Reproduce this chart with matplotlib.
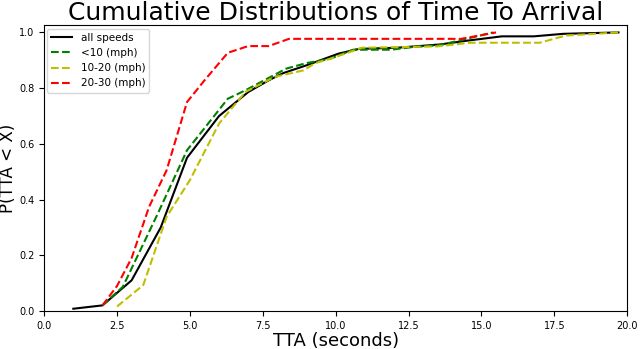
import matplotlib
matplotlib.use('Agg')
import matplotlib.pyplot as plt

# all speeds
all_x = [1.0, 2.0, 3.0, 4.0, 4.9, 6.0, 7.0, 7.7, 8.2, 9.0, 10.1, 10.8, 12.1, 13.6, 14.4, 15.7, 16.8, 17.8, 19.7]
all_y = [0.008, 0.02, 0.11, 0.30, 0.55, 0.70, 0.786, 0.828, 0.854, 0.882, 0.924, 0.941, 0.945, 0.957, 0.969, 0.986, 0.986, 0.995, 1.0]

# <10 mph
lo_x = [2.0, 2.7, 3.9, 4.9, 6.3, 6.9, 8.3, 9.0, 9.8, 10.6, 11.9, 12.6, 13.6, 14.4, 15.4]
lo_y = [0.02, 0.087, 0.35, 0.577, 0.762, 0.792, 0.87, 0.89, 0.905, 0.938, 0.938, 0.947, 0.955, 0.975, 1.0]

# 10-20 mph
mid_x = [2.5, 3.4, 4.2, 5.0, 6.0, 6.9, 7.9, 8.9, 9.3, 9.8, 10.9, 12.1, 13.5, 14.6, 17.0, 17.9, 19.7]
mid_y = [0.016, 0.093, 0.338, 0.47, 0.673, 0.786, 0.84, 0.864, 0.89, 0.905, 0.945, 0.947, 0.95, 0.963, 0.963, 0.989, 1.0]

# 20-30 mph
hi_x = [2.0, 2.5, 3.0, 3.6, 4.2, 4.9, 5.5, 6.3, 7.0, 7.7, 8.4, 14.3, 15.5]
hi_y = [0.02, 0.09, 0.19, 0.374, 0.505, 0.75, 0.828, 0.927, 0.951, 0.951, 0.977, 0.977, 1.0]

fig = plt.figure(figsize=(6.4, 3.49), dpi=100)
ax = fig.add_axes([0.069, 0.109, 0.911, 0.818])

ax.plot(all_x, all_y, 'k-', lw=1.5, label='all speeds')
ax.plot(lo_x, lo_y, 'g--', lw=1.5, label='<10 (mph)')
ax.plot(mid_x, mid_y, 'y--', lw=1.5, label='10-20 (mph)')
ax.plot(hi_x, hi_y, 'r--', lw=1.5, label='20-30 (mph)')

ax.set_xlim(0, 20)
ax.set_ylim(0, 1.025)
ax.tick_params(labelsize=7)
ax.set_xlabel('TTA (seconds)', fontsize=13, labelpad=1)
ax.set_ylabel('P(TTA < X)', fontsize=12)
ax.yaxis.set_label_coords(-0.046, 0.5)
ax.set_title('Cumulative Distributions of Time To Arrival', fontsize=18, pad=2)
ax.legend(loc='upper left', fontsize=7.5, borderaxespad=0.3)

fig.savefig('out.png', dpi=100)
